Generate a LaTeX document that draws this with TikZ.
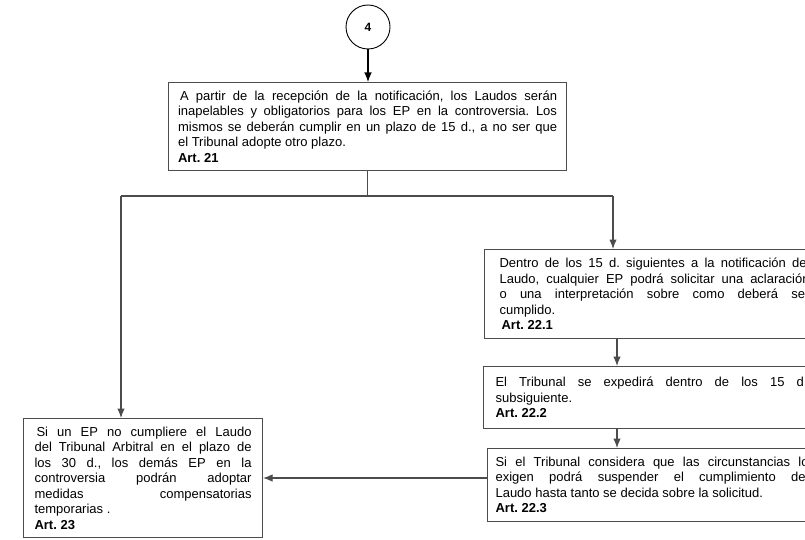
\documentclass[tikz,border=0pt]{standalone}
\usepackage{fontspec}
\setmainfont{Liberation Sans}
\usetikzlibrary{arrows.meta}
\frenchspacing
\begin{document}
\begin{tikzpicture}[x=1pt,y=-1pt,
  box/.style={draw=black!70, line width=1.1pt, align=justify, inner xsep=0pt, inner ysep=0pt,
    font=\fontsize{13}{15.5}\selectfont, anchor=north west},
  link/.style={draw=black!70, line width=1.1pt},
  arr/.style={link, -{Latex[length=9.5pt,width=7.5pt]}}]
\useasboundingbox (0,0) rectangle (805,540);
\clip (0,0) rectangle (805,540);

% start connector
\node[circle, draw=black, line width=0.9pt, minimum size=44pt, inner sep=0pt,
  font=\bfseries\fontsize{12}{13}\selectfont] (c4) at (368,27) {4};

% Art. 21
\node[box, minimum width=398pt, minimum height=88pt, text width=379pt] (t21) at (168,82)
  {\hspace*{2pt}A partir de la recepción de la notificación, los Laudos serán\linebreak
   inapelables y obligatorios para los EP en la controversia. Los\linebreak
   mismos se deberán cumplir en un plazo de 15 d., a no ser que\linebreak
   el Tribunal adopte otro plazo.\\
   \textbf{Art. 21}};

% Art. 22.1
\node[box, minimum width=340pt, minimum height=89pt, text width=310pt] (b1) at (484,249)
  {Dentro de los 15 d. siguientes a la notificación del\linebreak
   Laudo, cualquier EP podrá solicitar una aclaración\linebreak
   o una interpretación sobre como deberá ser\linebreak
   cumplido.\\
   \hspace*{2pt}\textbf{Art. 22.1}};

% Art. 22.2
\node[box, minimum width=336pt, minimum height=62pt, text width=312pt] (b2) at (483,366)
  {El Tribunal se expedirá dentro de los 15 d.\linebreak
   subsiguiente.\\
   \textbf{Art. 22.2}};

% Art. 22.3
\node[box, minimum width=329pt, minimum height=73pt, text width=313pt] (b3) at (487,448)
  {Si el Tribunal considera que las circunstancias lo\linebreak
   exigen podrá suspender el cumplimiento del\linebreak
   Laudo hasta tanto se decida sobre la solicitud.\\
   \textbf{Art. 22.3}};

% Art. 23
\node[box, minimum width=239pt, minimum height=119pt, text width=217pt] (t23) at (23,418)
  {\hspace*{2pt}Si un EP no cumpliere el Laudo\linebreak
   del Tribunal Arbitral en el plazo de\linebreak
   los 30 d., los demás EP en la\linebreak
   controversia podrán adoptar\linebreak
   medidas compensatorias\linebreak
   temporarias .\\
   \textbf{Art. 23}};

% branch points
\coordinate (L) at (121,196);
\coordinate (R) at (613,196);
\coordinate (ax) at (617,0);
\coordinate (ay) at (0,478);

% connectors
\draw[arr, draw=black] (c4.south) -- (c4.south |- t21.north);
\draw[link] (t21.south) -- (t21.south |- L);
\draw[link] (L) -- (R);
\draw[arr] (L) -- (L |- t23.north);
\draw[arr] (R) -- (R |- b1.north);
\draw[arr] (b1.south -| ax) -- (b2.north -| ax);
\draw[arr] (b2.south -| ax) -- (b3.north -| ax);
\draw[arr] (b3.west |- ay) -- (t23.east |- ay);
\end{tikzpicture}
\end{document}
